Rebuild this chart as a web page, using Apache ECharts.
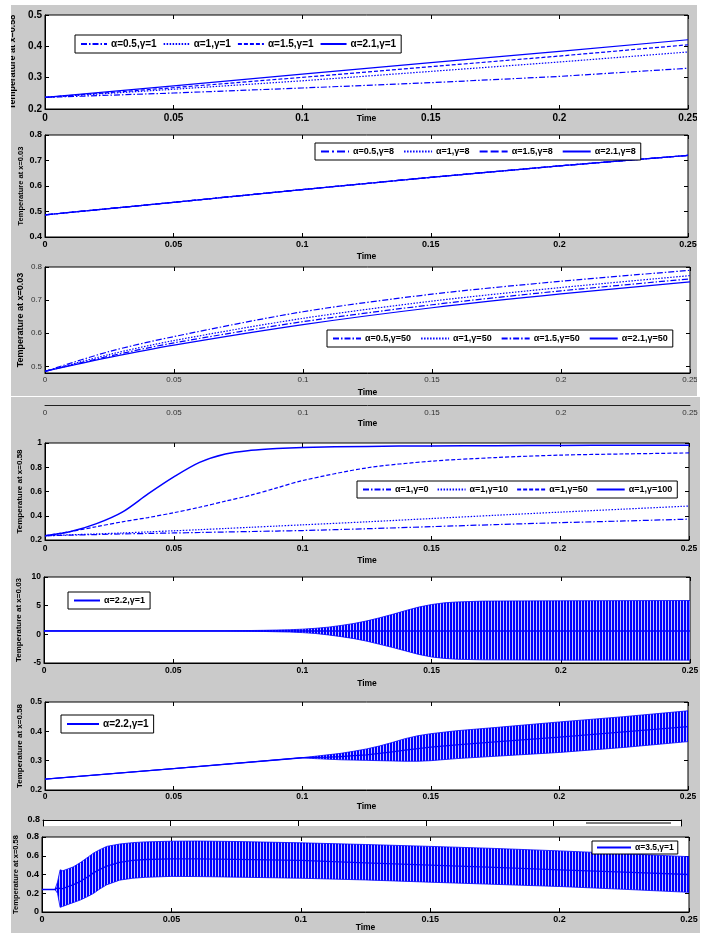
<!DOCTYPE html>
<html><head><meta charset="utf-8">
<script src="https://cdn.jsdelivr.net/npm/echarts@6/dist/echarts.min.js"></script>
<style>html,body{margin:0;padding:0;background:#fff}#c{width:706px;height:933px}</style>
</head><body><div id="c"></div>
<script>
// ================= DATA =================
const xTicks = [0, 0.05, 0.1, 0.15, 0.2, 0.25];

// Panel 1 : temperature at x=0.58, gamma=1
const p1Time = [0, 0.05, 0.1, 0.15, 0.2, 0.25];
const p1A05 = [0.237, 0.251, 0.267, 0.284, 0.304, 0.330];
const p1A1  = [0.237, 0.263, 0.290, 0.320, 0.350, 0.382];
const p1A15 = [0.237, 0.268, 0.301, 0.335, 0.369, 0.405];
const p1A21 = [0.237, 0.274, 0.311, 0.348, 0.384, 0.421];

// Panel 2 : temperature at x=0.03, gamma=8 (all curves coincide)
const p2Time = [0, 0.05, 0.1, 0.15, 0.2, 0.25];
const p2A05 = [0.487, 0.536, 0.586, 0.634, 0.679, 0.720];
const p2A1  = [0.487, 0.536, 0.586, 0.634, 0.679, 0.720];
const p2A15 = [0.487, 0.536, 0.586, 0.634, 0.679, 0.720];
const p2A21 = [0.487, 0.536, 0.586, 0.634, 0.679, 0.720];

// Panel 3 : temperature at x=0.03, gamma=50
const p3Time = [0, 0.025, 0.05, 0.1, 0.15, 0.2, 0.25];
const p3A05 = [0.485, 0.545, 0.590, 0.665, 0.718, 0.757, 0.790];
const p3A1  = [0.485, 0.536, 0.578, 0.645, 0.697, 0.738, 0.774];
const p3A15 = [0.485, 0.531, 0.571, 0.635, 0.686, 0.728, 0.764];
const p3A21 = [0.485, 0.527, 0.564, 0.626, 0.677, 0.719, 0.755];

// Panel 4 : temperature at x=0.58, alpha=1
const p4Time = [0, 0.01, 0.02, 0.03, 0.04, 0.05, 0.06, 0.07, 0.08, 0.09, 0.1, 0.125, 0.15, 0.175, 0.2, 0.225, 0.25];
const p4G0   = [0.235, 0.240, 0.245, 0.250, 0.254, 0.258, 0.262, 0.266, 0.270, 0.274, 0.278, 0.293, 0.310, 0.327, 0.343, 0.357, 0.372];
const p4G10  = [0.235, 0.243, 0.250, 0.258, 0.267, 0.276, 0.285, 0.295, 0.305, 0.315, 0.325, 0.350, 0.377, 0.404, 0.430, 0.455, 0.480];
const p4G50  = [0.235, 0.270, 0.310, 0.350, 0.385, 0.425, 0.470, 0.520, 0.570, 0.630, 0.690, 0.795, 0.850, 0.880, 0.900, 0.910, 0.918];
const p4G100 = [0.235, 0.270, 0.335, 0.430, 0.580, 0.720, 0.840, 0.910, 0.940, 0.955, 0.963, 0.972, 0.976, 0.978, 0.980, 0.981, 0.982];

// Panel 5 : x=0.03, alpha=2.2 (oscillation envelope)
const p5Time  = [0, 0.07, 0.085, 0.09, 0.095, 0.1, 0.105, 0.11, 0.115, 0.12, 0.125, 0.13, 0.135, 0.14, 0.145, 0.15, 0.155, 0.16, 0.17, 0.2, 0.25];
const p5Upper = [0.6, 0.6, 0.7, 0.75, 0.8, 0.9, 1.05, 1.25, 1.55, 1.9, 2.35, 2.9, 3.5, 4.15, 4.75, 5.2, 5.5, 5.65, 5.8, 5.85, 5.9];
const p5Lower = [0.6, 0.6, 0.5, 0.45, 0.4, 0.3, 0.15, -0.1, -0.4, -0.75, -1.2, -1.75, -2.3, -2.9, -3.5, -3.95, -4.2, -4.35, -4.45, -4.5, -4.5];
const p5CenterTime = [0, 0.25];
const p5Center = [0.6, 0.6];

// Panel 6 : x=0.58, alpha=2.2
const p6Time   = [0, 0.05, 0.1, 0.105, 0.11, 0.115, 0.12, 0.125, 0.13, 0.135, 0.14, 0.145, 0.15, 0.16, 0.175, 0.2, 0.225, 0.25];
const p6Upper  = [0.237, 0.273, 0.310, 0.315, 0.320, 0.325, 0.332, 0.340, 0.350, 0.362, 0.375, 0.385, 0.392, 0.402, 0.413, 0.432, 0.450, 0.470];
const p6Lower  = [0.237, 0.273, 0.310, 0.307, 0.305, 0.303, 0.302, 0.301, 0.300, 0.299, 0.298, 0.298, 0.300, 0.307, 0.315, 0.328, 0.345, 0.365];
const p6Center = [0.237, 0.273, 0.310, 0.311, 0.312, 0.314, 0.317, 0.320, 0.325, 0.330, 0.336, 0.341, 0.346, 0.354, 0.364, 0.380, 0.398, 0.416];

// Panel 7 : x=0.58, alpha=3.5
const p7Time   = [0, 0.005, 0.006, 0.007, 0.008, 0.01, 0.012, 0.015, 0.018, 0.02, 0.022, 0.025, 0.03, 0.035, 0.04, 0.05, 0.06, 0.075, 0.1, 0.125, 0.15, 0.175, 0.2, 0.225, 0.25];
const p7Upper  = [0.24, 0.24, 0.32, 0.45, 0.44, 0.46, 0.48, 0.53, 0.59, 0.63, 0.66, 0.70, 0.725, 0.74, 0.748, 0.755, 0.757, 0.752, 0.738, 0.72, 0.70, 0.678, 0.652, 0.622, 0.59];
const p7Lower  = [0.24, 0.24, 0.20, 0.05, 0.06, 0.08, 0.10, 0.13, 0.17, 0.20, 0.24, 0.29, 0.34, 0.36, 0.37, 0.38, 0.378, 0.372, 0.36, 0.342, 0.318, 0.295, 0.272, 0.242, 0.21];
const p7Center = [0.24, 0.24, 0.26, 0.25, 0.25, 0.27, 0.29, 0.33, 0.38, 0.42, 0.45, 0.49, 0.53, 0.55, 0.56, 0.566, 0.566, 0.562, 0.55, 0.525, 0.50, 0.475, 0.45, 0.425, 0.40];

// ================= STYLE / LAYOUT =================
const FONT = 'Liberation Sans, Arial, sans-serif';
const BLUE = '#0000ff';
const GRAY = '#cacaca';
const DASHDOT = [6, 2, 1.5, 2];
const DOT = [1.5, 1.5];
const DASH = [4, 2];
const LONGDASH = [8, 3];
const LONGDASHDOT = [8, 3, 2, 3];

const stripe = document.createElement('canvas');
stripe.width = 3; stripe.height = 1;
const sctx = stripe.getContext('2d');
sctx.fillStyle = '#0000ff'; sctx.fillRect(0, 0, 2, 1);
sctx.fillStyle = '#c4c4ff'; sctx.fillRect(2, 0, 1, 1);
const bandFill = { image: stripe, repeat: 'repeat' };

const panels = [
  { l: 43, r: 688, t: 15, b: 109, ymin: 0.2, ymax: 0.5, yint: 0.1, f: 10, bold: true, xm: 4, tg: 5, tf: 8.5, yname: 'Temperature at x=0.58', yng: 28, ynf: 9 },
  { l: 45, r: 688, t: 135, b: 237, ymin: 0.4, ymax: 0.8, yint: 0.1, f: 9, bold: true, xm: 3.5, tg: 15, tf: 8.5, yname: 'Temperature at x=0.03', yng: 20, ynf: 7.5 },
  { l: 45, r: 690, t: 267, b: 373, ymin: 0.48, ymax: 0.8, ycustom: [0.5, 0.6, 0.7, 0.8], f: 8, bold: false, col: '#333', xm: 3, tg: 15, tf: 8.5, yname: 'Temperature at x=0.03', yng: 20, ynf: 9 },
  { l: 45, r: 689, t: 443, b: 540, ymin: 0.2, ymax: 1, yint: 0.2, f: 8.5, bold: true, xm: 4.5, tg: 16, tf: 8.5, yname: 'Temperature at x=0.58', yng: 21, ynf: 8 },
  { l: 44, r: 690, t: 577, b: 663, ymin: -5, ymax: 10, yint: 5, f: 8.5, bold: true, xm: 3, tg: 16, tf: 8.5, yname: 'Temperature at x=0.03', yng: 21, ynf: 8 },
  { l: 45, r: 688, t: 702, b: 790, ymin: 0.2, ymax: 0.5, yint: 0.1, f: 8.5, bold: true, xm: 2, tg: 12, tf: 8.5, yname: 'Temperature at x=0.58', yng: 21, ynf: 8 },
  { l: 42, r: 689, t: 837, b: 915, ymin: 0, ymax: 0.8, yint: 0.2, f: 9, bold: true, xm: 3, tg: 11, tf: 8.5, yname: 'Temperature at x=0.58', yng: 22, ynf: 7.5 }
];

const grid = [], xAxis = [], yAxis = [], series = [], legend = [];
const axisIdx = [];
const fmtX = v => String(+(+v).toFixed(2));

function tickStyle() { return { show: true, inside: true, length: 4, lineStyle: { color: '#000', width: 1 } }; }

panels.forEach((p, k) => {
  const gi = grid.length;
  grid.push({ left: p.l, top: p.t, width: p.r - p.l, height: p.b - p.t, show: true, backgroundColor: '#fff', borderColor: '#000', borderWidth: 1 });
  const lab = { fontFamily: FONT, fontSize: p.f, fontWeight: p.bold ? 'bold' : 'normal', color: p.col || '#000' };
  const xi = xAxis.length, yi = yAxis.length;
  axisIdx.push([xi, yi]);
  xAxis.push({ gridIndex: gi, type: 'value', min: 0, max: 0.25, interval: 0.05, position: 'bottom',
    axisLine: { show: true, onZero: false, lineStyle: { color: '#000', width: 1 } },
    axisTick: tickStyle(), splitLine: { show: false },
    axisLabel: Object.assign({ show: true, margin: p.xm, formatter: fmtX, showMinLabel: true, showMaxLabel: true, hideOverlap: false }, lab),
    name: 'Time', nameLocation: 'middle', nameGap: p.tg, nameMoveOverlap: false,
    nameTextStyle: { fontFamily: FONT, fontSize: p.tf, fontWeight: 'bold', color: '#000' } });
  xAxis.push({ gridIndex: gi, type: 'value', min: 0, max: 0.25, interval: 0.05, position: 'top',
    axisLine: { show: false, onZero: false }, axisTick: tickStyle(), axisLabel: { show: false }, splitLine: { show: false } });
  const yBase = { gridIndex: gi, type: 'value', min: p.ymin, max: p.ymax, splitLine: { show: false } };
  const yName = { name: p.yname, nameLocation: 'middle', nameGap: p.yng, nameRotate: 90, nameMoveOverlap: false,
      nameTextStyle: { fontFamily: FONT, fontSize: p.ynf, fontWeight: 'bold', color: '#000' } };
  if (p.ycustom) {
    yAxis.push(Object.assign({}, yBase, yName, { position: 'left',
      axisLine: { show: true, onZero: false, lineStyle: { color: '#000' } },
      axisTick: Object.assign(tickStyle(), { customValues: p.ycustom }),
      axisLabel: Object.assign({ margin: 3, customValues: p.ycustom }, lab) }));
    yAxis.push(Object.assign({}, yBase, { position: 'right', axisLine: { show: false, onZero: false },
      axisTick: Object.assign(tickStyle(), { customValues: p.ycustom }), axisLabel: { show: false } }));
  } else {
    yAxis.push(Object.assign({}, yBase, yName, { interval: p.yint, position: 'left',
      axisLine: { show: true, onZero: false, lineStyle: { color: '#000' } },
      axisTick: tickStyle(), axisLabel: Object.assign({ margin: 3 }, lab) }));
    yAxis.push(Object.assign({}, yBase, { interval: p.yint, position: 'right', axisLine: { show: false, onZero: false },
      axisTick: tickStyle(), axisLabel: { show: false } }));
  }
});

// extra axis strip (cut-off plot) at y=405
(function () {
  const gi = grid.length;
  grid.push({ left: 45, top: 404, width: 645, height: 1, show: false });
  xAxis.push({ gridIndex: gi, type: 'value', min: 0, max: 0.25, interval: 0.05, position: 'bottom',
    axisLine: { show: true, onZero: false, lineStyle: { color: '#222', width: 1 } }, axisTick: { show: false },
    splitLine: { show: false },
    axisLabel: { margin: 4, formatter: fmtX, fontFamily: FONT, fontSize: 8, color: '#333' },
    name: 'Time', nameLocation: 'middle', nameGap: 14, nameMoveOverlap: false,
    nameTextStyle: { fontFamily: FONT, fontSize: 8.5, fontWeight: 'bold', color: '#000' } });
  yAxis.push({ gridIndex: gi, type: 'value', min: 0, max: 1, show: false });
})();

// thin cut-off panel at y=820
(function () {
  const gi = grid.length;
  grid.push({ left: 43, top: 820, width: 638, height: 6, show: true, backgroundColor: '#fff', borderWidth: 0 });
  xAxis.push({ gridIndex: gi, type: 'value', min: 0, max: 0.25, interval: 0.05, position: 'top',
    axisLine: { show: true, onZero: false, lineStyle: { color: '#000' } },
    axisTick: { show: true, inside: true, length: 6, lineStyle: { color: '#000' } },
    axisLabel: { show: false }, splitLine: { show: false } });
  yAxis.push({ gridIndex: gi, type: 'value', min: 0.78, max: 0.8, position: 'left',
    axisLine: { show: true, onZero: false, lineStyle: { color: '#000' } },
    axisTick: { show: false }, splitLine: { show: false },
    axisLabel: { margin: 3, customValues: [0.8], formatter: v => String(+(+v).toFixed(1)), fontFamily: FONT, fontSize: 9, fontWeight: 'bold', color: '#000' } });
  yAxis.push({ gridIndex: gi, type: 'value', min: 0.78, max: 0.8, position: 'right',
    axisLine: { show: true, onZero: false, lineStyle: { color: '#000' } }, axisTick: { show: false }, axisLabel: { show: false }, splitLine: { show: false } });
})();

function lineS(k, name, xs, ys, type, width, smooth) {
  return { type: 'line', name: name, xAxisIndex: axisIdx[k][0], yAxisIndex: axisIdx[k][1],
    data: xs.map((x, i) => [x, ys[i]]), symbol: 'none', showSymbol: false, smooth: smooth || false,
    lineStyle: { color: BLUE, width: width || 1.2, type: type || 'solid' }, itemStyle: { color: BLUE },
    silent: true, z: 3, animation: false };
}
function bandS(k, xs, lo, hi) {
  return { type: 'custom', xAxisIndex: axisIdx[k][0], yAxisIndex: axisIdx[k][1], silent: true, z: 2, animation: false,
    clip: true, data: [[xs[0], lo[0]]],
    renderItem: function (params, api) {
      const pts = [];
      for (let i = 0; i < xs.length; i++) pts.push(api.coord([xs[i], hi[i]]));
      for (let i = xs.length - 1; i >= 0; i--) pts.push(api.coord([xs[i], lo[i]]));
      return { type: 'polygon', shape: { points: pts }, style: { fill: bandFill, stroke: BLUE, lineWidth: 0.8 } };
    } };
}

const N = (k, s) => 'P' + k + '|' + s;

// panel 1
series.push(lineS(0, N(1, 'α=0.5,γ=1'), p1Time, p1A05, DASHDOT));
series.push(lineS(0, N(1, 'α=1,γ=1'), p1Time, p1A1, DOT));
series.push(lineS(0, N(1, 'α=1.5,γ=1'), p1Time, p1A15, DASH));
series.push(lineS(0, N(1, 'α=2.1,γ=1'), p1Time, p1A21, 'solid'));
// panel 2
series.push(lineS(1, N(2, 'α=0.5,γ=8'), p2Time, p2A05, LONGDASHDOT));
series.push(lineS(1, N(2, 'α=1,γ=8'), p2Time, p2A1, DOT));
series.push(lineS(1, N(2, 'α=1.5,γ=8'), p2Time, p2A15, LONGDASH));
series.push(lineS(1, N(2, 'α=2.1,γ=8'), p2Time, p2A21, 'solid'));
// panel 3
series.push(lineS(2, N(3, 'α=0.5,γ=50'), p3Time, p3A05, DASHDOT, 1.2, 0.3));
series.push(lineS(2, N(3, 'α=1,γ=50'), p3Time, p3A1, DOT, 1.2, 0.3));
series.push(lineS(2, N(3, 'α=1.5,γ=50'), p3Time, p3A15, DASHDOT, 1.2, 0.3));
series.push(lineS(2, N(3, 'α=2.1,γ=50'), p3Time, p3A21, 'solid', 1.2, 0.3));
// panel 4
series.push(lineS(3, N(4, 'α=1,γ=0'), p4Time, p4G0, DASHDOT, 1.2, 0.3));
series.push(lineS(3, N(4, 'α=1,γ=10'), p4Time, p4G10, DOT, 1.2, 0.3));
series.push(lineS(3, N(4, 'α=1,γ=50'), p4Time, p4G50, DASH, 1.2, 0.3));
series.push(lineS(3, N(4, 'α=1,γ=100'), p4Time, p4G100, 'solid', 1.5, 0.3));
// panel 5
series.push(bandS(4, p5Time, p5Lower, p5Upper));
series.push(lineS(4, N(5, 'α=2.2,γ=1'), p5CenterTime, p5Center, 'solid', 1.5));
// panel 6
series.push(bandS(5, p6Time, p6Lower, p6Upper));
series.push(lineS(5, N(6, 'α=2.2,γ=1'), p6Time, p6Center, 'solid', 1.3));
// panel 7
series.push(bandS(6, p7Time, p7Lower, p7Upper));
series.push(lineS(6, N(7, 'α=3.5,γ=1'), p7Time, p7Center, 'solid', 1.3));

function leg(k, names, left, top, fs, iw, gap, pad) {
  return { data: names.map(s => N(k, s)), left: left, top: top, orient: 'horizontal', selectedMode: false,
    itemWidth: iw, itemHeight: 10, itemGap: gap, padding: pad, borderColor: '#000', borderWidth: 1, backgroundColor: '#fff',
    itemStyle: { opacity: 0 },
    formatter: n => n.split('|')[1], textStyle: { fontFamily: FONT, fontSize: fs, fontWeight: 'bold', color: '#000', padding: [0, 0, 0, -1] } };
}
legend.push(leg(1, ['α=0.5,γ=1', 'α=1,γ=1', 'α=1.5,γ=1', 'α=2.1,γ=1'], 75, 35, 10, 26, 6, [4, 5]));
legend.push(leg(2, ['α=0.5,γ=8', 'α=1,γ=8', 'α=1.5,γ=8', 'α=2.1,γ=8'], 315, 143, 9, 28, 9, [4, 5]));
legend.push(leg(3, ['α=0.5,γ=50', 'α=1,γ=50', 'α=1.5,γ=50', 'α=2.1,γ=50'], 327, 330, 9, 28, 9, [4, 5]));
legend.push(leg(4, ['α=1,γ=0', 'α=1,γ=10', 'α=1,γ=50', 'α=1,γ=100'], 357, 481, 9, 28, 8, [4, 5]));
legend.push(leg(5, ['α=2.2,γ=1'], 68, 592, 9, 26, 10, [4, 5]));
legend.push(leg(6, ['α=2.2,γ=1'], 61, 715, 10, 32, 10, [4, 5]));
legend.push(leg(7, ['α=3.5,γ=1'], 592, 841, 8.5, 34, 10, [2, 4]));

const graphic = [
  { type: 'rect', z: -10, silent: true, shape: { x: 11, y: 5, width: 686, height: 391 }, style: { fill: GRAY } },
  { type: 'rect', z: -10, silent: true, shape: { x: 11, y: 397, width: 689, height: 536 }, style: { fill: GRAY } },
  { type: 'line', z: 5, silent: true, shape: { x1: 586, y1: 823, x2: 671, y2: 823 }, style: { stroke: '#000', lineWidth: 1 } },
  { type: 'rect', z: 100, silent: true, shape: { x: 0, y: 0, width: 11, height: 933 }, style: { fill: '#fff' } },
  { type: 'rect', z: 100, silent: true, shape: { x: 0, y: 0, width: 706, height: 5 }, style: { fill: '#fff' } },
  { type: 'rect', z: 100, silent: true, shape: { x: 697, y: 0, width: 9, height: 397 }, style: { fill: '#fff' } },
  { type: 'rect', z: 100, silent: true, shape: { x: 700, y: 397, width: 6, height: 536 }, style: { fill: '#fff' } }
];

const chart = echarts.init(document.getElementById('c'), null, { renderer: 'canvas', width: 706, height: 933 });
chart.setOption({
  animation: false,
  backgroundColor: '#fff',
  grid: grid, xAxis: xAxis, yAxis: yAxis, series: series, legend: legend, graphic: graphic
});
</script>
</body></html>
